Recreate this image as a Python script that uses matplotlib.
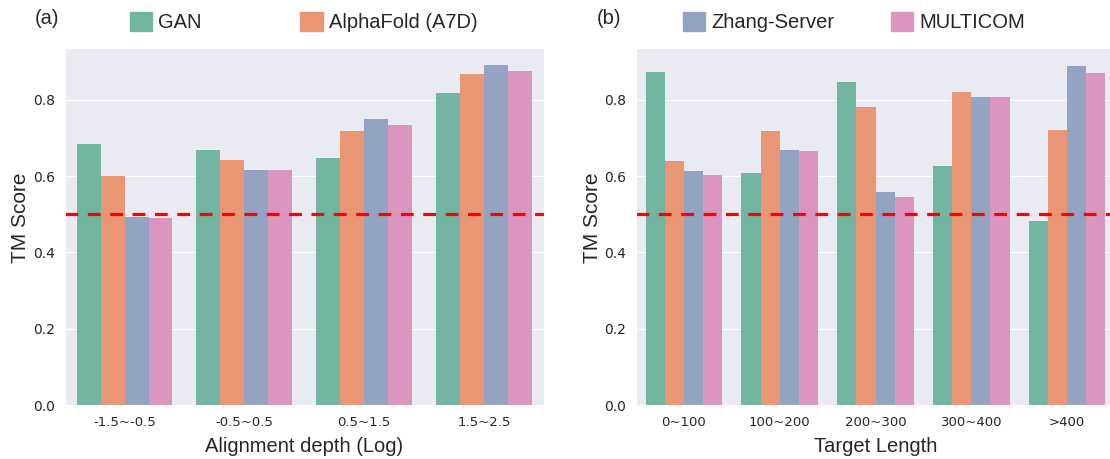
import matplotlib
matplotlib.use("Agg")
import matplotlib.pyplot as plt
from matplotlib.patches import Patch
import seaborn as sns
import numpy as np

methods = ['GAN', 'AlphaFold (A7D)', 'Zhang-Server', 'MULTICOM']

# (a) TM score by alignment depth
depth_bins = ['-1.5~-0.5', '-0.5~0.5', '0.5~1.5', '1.5~2.5']
depth_gan = [0.683, 0.668, 0.648, 0.819]
depth_alphafold = [0.601, 0.643, 0.719, 0.868]
depth_zhang = [0.494, 0.616, 0.749, 0.891]
depth_multicom = [0.491, 0.615, 0.735, 0.875]

# (b) TM score by target length
length_bins = ['0~100', '100~200', '200~300', '300~400', '>400']
length_gan = [0.874, 0.607, 0.847, 0.626, 0.482]
length_alphafold = [0.640, 0.717, 0.781, 0.821, 0.722]
length_zhang = [0.613, 0.669, 0.559, 0.807, 0.889]
length_multicom = [0.603, 0.666, 0.545, 0.807, 0.869]

threshold = 0.5

sns.set_style('darkgrid')
colors = sns.color_palette('Set2', 4, desat=0.75)
label_font = ['Liberation Sans', 'DejaVu Sans']

fig = plt.figure(figsize=(11.1, 4.59), dpi=100)
ax1 = fig.add_axes([0.0583, 0.1176, 0.4315, 0.778])
ax2 = fig.add_axes([0.573, 0.1176, 0.4315, 0.778])


def draw_panel(ax, bins, series, xlabel):
    x = np.arange(len(bins))
    w = 0.2
    for j, vals in enumerate(series):
        ax.bar(x + (j - 1.5) * w, vals, width=w, color=colors[j], linewidth=0)
    ax.axhline(threshold, color='#ff0000', linestyle='--', dashes=(4, 3), linewidth=2.3)
    ax.set_xlim(-0.5, len(bins) - 0.5)
    ax.set_ylim(0, 0.936)
    ax.set_yticks([0.0, 0.2, 0.4, 0.6, 0.8])
    ax.set_xticks(x)
    ax.set_xticklabels(bins)
    ax.xaxis.grid(False)
    ax.tick_params(axis='y', labelsize=10, length=0, pad=7, colors='#262626')
    ax.tick_params(axis='x', labelsize=9.5, length=0, pad=8, colors='#262626')
    ax.set_xlabel(xlabel, fontsize=14.5, family=label_font, labelpad=6)
    ax.set_ylabel('TM Score', fontsize=15, family=label_font)
    ax.yaxis.set_label_coords(-0.072, 0.525)


draw_panel(ax1, depth_bins, [depth_gan, depth_alphafold, depth_zhang, depth_multicom],
           'Alignment depth (Log)')
draw_panel(ax2, length_bins, [length_gan, length_alphafold, length_zhang, length_multicom],
           'Target Length')

handles = [Patch(color=c) for c in colors]

fig.legend(handles[:2], methods[:2], ncol=2, loc='center left',
           bbox_to_anchor=(120 / 1110, 1 - 22 / 459), frameon=False,
           borderpad=0, handlelength=1.1, handleheight=1.1, handletextpad=0.3,
           columnspacing=4.9, prop={'family': label_font, 'size': 14.5})
fig.legend(handles[2:], methods[2:], ncol=2, loc='center left',
           bbox_to_anchor=(673 / 1110, 1 - 22 / 459), frameon=False,
           borderpad=0, handlelength=1.1, handleheight=1.1, handletextpad=0.3,
           columnspacing=2.8, prop={'family': label_font, 'size': 14.5})

fig.text(35 / 1110, 1 - 18 / 459, '(a)', fontsize=14.5, family=label_font, va='center')
fig.text(597 / 1110, 1 - 18 / 459, '(b)', fontsize=14.5, family=label_font, va='center')

fig.savefig('out.png', dpi=100)
